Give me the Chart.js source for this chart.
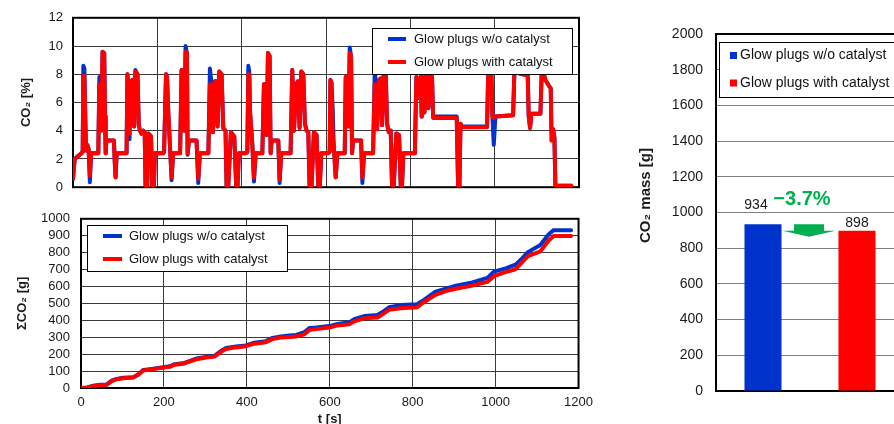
<!DOCTYPE html>
<html>
<head>
<meta charset="utf-8">
<script src="https://cdn.jsdelivr.net/npm/chart.js@4.4.1/dist/chart.umd.min.js"></script>
<style>
html,body{margin:0;padding:0;background:#fff;}
body{width:894px;height:424px;overflow:hidden;position:relative;}
canvas{position:absolute;}
#co2Pct{left:0;top:0;}
#co2Sum{left:0;top:200px;}
#co2Mass{left:620px;top:0;}
</style>
</head>
<body>
<canvas id="co2Pct" width="600" height="205"></canvas>
<canvas id="co2Sum" width="600" height="240"></canvas>
<canvas id="co2Mass" width="300" height="424"></canvas>
<script>
const seriesNames = ['Glow plugs w/o catalyst', 'Glow plugs with catalyst'];

// top panel: CO2 concentration [%] vs time [s]
const pctTime = [
  0, 4, 12, 20, 23, 24.5, 27, 29, 31, 34, 37, 40, 43, 60, 62.5, 65.5, 67.5, 70, 74, 76, 77.5, 79, 97, 99, 101, 103.5, 127, 129, 132, 134, 137, 141, 145, 148, 153, 156, 159, 162, 167, 170, 172, 176, 179, 185, 188, 192, 194,
  214, 216, 220.6, 223, 226, 230, 233.8, 237.5, 254, 257.5, 261.5, 264, 267, 270.2, 271.8, 275, 293, 297, 301, 321, 324.7, 328.7, 331.8, 336.6, 340.5, 342.9, 346.8, 352.4, 356.3, 361.8, 364.2, 368.2, 374.5, 382.4, 387.1, 390.3, 393.4,
  409.5, 413.5, 415.8, 418, 420, 425.3, 429.2, 433.2, 449, 452.9, 456.9, 459.2, 462.4, 466.3, 468.7, 471, 486.8, 490, 493.9, 516, 520, 524, 529.5, 533.5, 537.4, 541.4, 546.1, 550, 554, 558, 561, 565.8, 571.3, 577.6, 581.6, 585.5, 588.7,
  605, 608.8, 610.4, 613, 616, 618.3, 623, 627, 644.4, 646.8, 650, 653.1, 656.3, 659.4, 661.8, 664.2, 683.2, 686.3, 690.3, 711.6, 715.6, 718.7, 721.1, 725, 729, 733, 736.9, 741.6, 744.8, 748.7, 753.5, 756.6, 760.6, 766.9, 773.2, 777.2, 780.3, 783.5,
  809, 811, 814.4, 817.5, 820, 824, 827, 830, 833.4, 835.7, 839.6, 842.8, 846, 850.8, 854, 910, 913.3, 916.5, 919, 923, 982, 985, 988.4, 991.5, 994.7, 997.9, 1001.8, 1043.7, 1046.8, 1053, 1078.4, 1080.8, 1084, 1087, 1108.5, 1111.6, 1116.4, 1120.4, 1128.3, 1133, 1134.6, 1138.6, 1141.7, 1144, 1182
];
const pctNoCat = [
  0.6, 2.0, 2.2, 2.4, 2.5, 8.6, 8.4, 5.0, 2.6, 3.0, 2.7, 0.35, 2.4, 2.4, 7.8, 7.8, 4.1, 9.6, 9.5, 5.0, 2.4, 3.3, 3.3, 1.8, 0.7, 2.4, 2.4, 8.0, 7.0, 3.4, 7.5, 7.6, 4.3, 8.3, 8.0, 4.4, 4.0, 3.8, 4.0, 3.9, 0.1, 0.1, 3.8, 3.6, 0.1, 0.1, 2.4,
  2.4, 2.5, 8.0, 7.8, 5.3, 2.9, 0.5, 2.4, 2.4, 8.3, 8.0, 4.0, 10.0, 9.5, 2.3, 3.3, 3.3, 0.3, 2.4, 2.4, 8.4, 7.3, 3.9, 7.5, 7.5, 4.3, 8.2, 8.0, 4.2, 4.0, 0.1, 0.1, 3.9, 3.6, 0.1, 0.1, 2.4,
  2.4, 2.5, 8.6, 8.2, 5.3, 3.0, 0.4, 2.4, 2.4, 7.3, 7.3, 3.7, 9.5, 9.3, 2.4, 3.3, 3.3, 0.3, 2.4, 2.4, 8.3, 4.0, 7.3, 7.5, 4.2, 8.2, 8.0, 4.5, 4.0, 3.9, 0.1, 0.1, 3.9, 3.7, 0.1, 0.1, 2.4,
  2.4, 2.5, 7.6, 7.4, 5.5, 3.0, 0.7, 2.4, 2.4, 7.8, 7.8, 4.3, 9.9, 9.3, 2.4, 3.3, 3.3, 0.3, 2.4, 2.4, 8.3, 7.3, 4.1, 7.5, 7.7, 4.4, 8.2, 8.1, 4.5, 3.9, 4.0, 0.1, 0.1, 3.8, 3.7, 0.1, 0.1, 2.4,
  2.4, 3.0, 7.8, 6.3, 7.4, 7.8, 5.0, 8.0, 5.3, 8.6, 8.5, 5.6, 8.6, 8.5, 5.0, 5.0, 0.1, 0.1, 4.5, 4.3, 4.3, 8.6, 9.4, 9.1, 5.0, 3.0, 5.0, 5.1, 8.2, 8.1, 7.9, 5.0, 4.2, 5.2, 5.2, 8.2, 8.0, 7.6, 7.2, 7.0, 4.0, 4.1, 3.5, 0.1, 0.1
];
const pctCat = [
  0.6, 2.0, 2.2, 2.4, 2.5, 7.9, 7.9, 5.2, 2.6, 3.0, 2.7, 0.8, 2.4, 2.4, 7.3, 7.3, 4.0, 9.6, 9.5, 5.0, 2.4, 3.3, 3.3, 1.8, 0.7, 2.4, 2.4, 8.0, 7.0, 3.8, 7.5, 7.6, 4.3, 8.2, 8.0, 4.4, 4.0, 3.8, 4.0, 3.9, 0.1, 0.1, 3.8, 3.6, 0.1, 0.1, 2.4,
  2.4, 2.5, 8.0, 7.8, 5.3, 2.9, 0.7, 2.4, 2.4, 8.3, 8.0, 4.0, 9.6, 9.5, 2.4, 3.3, 3.3, 0.6, 2.4, 2.4, 7.3, 7.3, 3.9, 7.5, 7.5, 4.3, 8.2, 8.0, 4.2, 4.0, 0.1, 0.1, 3.9, 3.6, 0.1, 0.1, 2.4,
  2.4, 2.5, 8.0, 8.0, 5.3, 3.0, 0.7, 2.4, 2.4, 7.3, 7.3, 3.7, 9.5, 9.3, 2.4, 3.3, 3.3, 0.5, 2.4, 2.4, 8.3, 4.0, 7.3, 7.5, 4.2, 8.2, 8.0, 4.5, 4.0, 3.9, 0.1, 0.1, 3.9, 3.7, 0.1, 0.1, 2.4,
  2.4, 2.5, 7.6, 7.4, 3.5, 3.0, 0.7, 2.4, 2.4, 7.8, 7.8, 4.3, 9.5, 9.3, 2.4, 3.3, 3.3, 0.7, 2.4, 2.4, 7.3, 7.3, 4.1, 7.5, 7.7, 4.4, 8.2, 8.1, 4.5, 3.9, 4.0, 0.1, 0.1, 3.8, 3.7, 0.1, 0.1, 2.4,
  2.4, 2.7, 7.8, 6.3, 7.4, 7.8, 5.0, 8.0, 5.3, 8.6, 8.5, 5.6, 8.6, 8.5, 4.9, 4.9, 0.1, 0.1, 4.5, 4.25, 4.25, 8.6, 9.4, 9.1, 5.0, 4.9, 5.0, 5.1, 8.2, 8.1, 7.9, 5.0, 4.2, 5.2, 5.2, 8.2, 8.0, 7.6, 7.2, 7.0, 3.3, 4.1, 3.5, 0.1, 0.1
];

// bottom panel: cumulative CO2 [g] vs time [s]
const sumTime  = [0, 15, 30, 46, 62, 74, 86, 102, 126, 138, 150, 162, 186, 214, 226, 250, 258, 278, 302, 322, 338, 350, 374, 398, 418, 446, 462, 482, 503, 519, 539, 551, 567, 599, 619, 647, 659, 683, 715, 727, 743, 771, 811, 823, 839, 855, 880, 904, 944, 980, 996, 1024, 1048, 1064, 1078, 1108, 1128, 1140, 1182];
const sumNoCat = [0, 3, 14, 19, 21, 43, 54, 60, 64, 80, 106, 110, 118, 128, 141, 148, 156, 174, 184, 190, 220, 236, 245, 252, 268, 277, 296, 305, 310, 314, 330, 354, 357, 366, 379, 388, 407, 425, 431, 449, 477, 490, 495, 514, 541, 569, 587, 605, 624, 651, 688, 707, 729, 766, 803, 845, 909, 933, 933];
const sumCat   = [0, 2, 12, 17, 19, 40, 52, 58, 62, 78, 103, 108, 116, 125, 138, 145, 153, 170, 180, 186, 215, 231, 240, 247, 262, 271, 289, 298, 302, 305, 317, 343, 348, 357, 370, 376, 394, 412, 416, 435, 462, 471, 477, 501, 526, 551, 573, 587, 605, 627, 661, 685, 702, 744, 780, 808, 872, 898, 898];

// right panel: total CO2 mass [g]
const massValues = [934, 898];
const massChange = '\u22123.7%';

const fam = '"Liberation Sans", Arial, sans-serif';
const txt = '#1a1a1a';
const blue = '#0033cc', red = '#ff0000';
Chart.defaults.font.family = fam;
Chart.defaults.color = txt;

const pts = (xs, ys) => xs.map((x, i) => ({x, y: ys[i]}));
const plain = v => String(v);

// black box round the plot area
const frame = {
  id: 'frame',
  beforeDatasetsDraw(chart) {
    const {ctx, chartArea: a} = chart;
    ctx.save();
    ctx.strokeStyle = '#000';
    ctx.lineWidth = 2;
    ctx.strokeRect(a.left, a.top, a.right - a.left, a.bottom - a.top);
    ctx.restore();
  }
};

// legend drawn inside the plot, in a white box
const boxLegend = {
  id: 'boxLegend',
  afterDraw(chart, args, o) {
    const {ctx, chartArea: a} = chart;
    const x = Math.round(a.left + o.x), y = Math.round(a.top + o.y);
    ctx.save();
    ctx.fillStyle = '#fff';
    ctx.fillRect(x, y, o.w, o.h);
    ctx.strokeStyle = '#000';
    ctx.lineWidth = 1;
    ctx.strokeRect(x + 0.5, y + 0.5, o.w, o.h);
    ctx.font = o.font;
    ctx.textBaseline = 'middle';
    chart.data.datasets.forEach((ds, i) => {
      const cy = y + o.rows[i];
      if (o.marker === 'line') {
        ctx.strokeStyle = ds.borderColor;
        ctx.lineWidth = 4;
        ctx.beginPath();
        ctx.moveTo(x + o.m0, cy);
        ctx.lineTo(x + o.m1, cy);
        ctx.stroke();
      } else {
        ctx.fillStyle = ds.backgroundColor;
        ctx.fillRect(x + o.m0, cy - 3.5, o.m1 - o.m0, 7);
      }
      ctx.fillStyle = '#111';
      ctx.fillText(ds.label, x + o.tx, cy);
    });
    ctx.restore();
  }
};

// value labels, green arrow, change text and y title of the bar panel
const barNotes = {
  id: 'barNotes',
  afterDatasetsDraw(chart) {
    const {ctx, chartArea: a} = chart;
    const b0 = chart.getDatasetMeta(0).data[0];
    const b1 = chart.getDatasetMeta(1).data[1];
    ctx.save();
    ctx.fillStyle = txt;
    ctx.textAlign = 'center';
    ctx.textBaseline = 'middle';
    ctx.font = '14px ' + fam;
    ctx.fillText(String(massValues[0]), b0.x - 7, b0.y - 19);
    ctx.fillText(String(massValues[1]), b1.x, b1.y - 8);

    const l = b0.x + b0.width / 2 + 1;
    const r = b1.x - b1.width / 2 - 3;
    const m = (l + r) / 2;
    ctx.fillStyle = '#00b050';
    ctx.beginPath();
    ctx.moveTo(m - 15, b0.y);
    ctx.lineTo(m + 15, b0.y);
    ctx.lineTo(m + 15, b1.y);
    ctx.lineTo(r, b1.y);
    ctx.lineTo(m, b1.y + 6);
    ctx.lineTo(l, b1.y);
    ctx.lineTo(m - 15, b1.y);
    ctx.closePath();
    ctx.fill();
    ctx.font = 'bold 20px ' + fam;
    ctx.fillText(massChange, m - 7, b0.y - 25);

    ctx.fillStyle = txt;
    ctx.font = 'bold 15px ' + fam;
    ctx.translate(chart.scales.y.left + 26, (a.top + a.bottom) / 2 - 17);
    ctx.rotate(-Math.PI / 2);
    ctx.fillText('CO\u2082 mass [g]', 0, 0);
    ctx.restore();
  }
};

// red is drawn over blue, as in the original
const lineSet = (label, data, color, order) => ({
  label, data, order, borderColor: color, backgroundColor: color,
  borderWidth: 4, pointRadius: 0, tension: 0,
  borderJoinStyle: 'round', borderCapStyle: 'round'
});

const gridCol = '#3a3a3a';

new Chart(document.getElementById('co2Pct'), {
  type: 'line',
  data: {datasets: [
    lineSet(seriesNames[0], pts(pctTime, pctNoCat), blue, 1),
    lineSet(seriesNames[1], pts(pctTime, pctCat), red, 0)
  ]},
  options: {
    animation: false, responsive: false, events: [],
    layout: {padding: {top: 15, right: 21, bottom: 8, left: 0}},
    plugins: {
      legend: {display: false}, tooltip: {enabled: false},
      boxLegend: {x: 299, y: 10, w: 200, h: 46, rows: [11, 34], marker: 'line', m0: 16, m1: 34, tx: 42, font: '13px ' + fam}
    },
    scales: {
      x: {type: 'linear', min: 0, max: 1200,
        ticks: {display: false, stepSize: 200, autoSkip: false},
        grid: {color: gridCol, drawTicks: false}, border: {display: false},
        afterFit: s => { s.height = 0; }},
      y: {min: 0, max: 12,
        ticks: {stepSize: 2, autoSkip: false, padding: 10, color: txt, font: {size: 13}, callback: plain},
        grid: {color: gridCol, drawTicks: false}, border: {display: false},
        title: {display: true, text: 'CO\u2082 [%]', color: txt, font: {size: 13, weight: 'bold'}, padding: {top: 19, bottom: 0}},
        afterFit: s => { s.width = 73; }}
    }
  },
  plugins: [frame, boxLegend]
});

new Chart(document.getElementById('co2Sum'), {
  type: 'line',
  data: {datasets: [
    lineSet(seriesNames[0], pts(sumTime, sumNoCat), blue, 1),
    lineSet(seriesNames[1], pts(sumTime, sumCat), red, 0)
  ]},
  options: {
    animation: false, responsive: false, events: [],
    layout: {padding: {top: 7, right: 20, bottom: 0, left: 0}},
    plugins: {
      legend: {display: false}, tooltip: {enabled: false},
      boxLegend: {x: 6, y: 6, w: 200, h: 46, rows: [11, 34], marker: 'line', m0: 16, m1: 35, tx: 42, font: '13px ' + fam}
    },
    scales: {
      x: {type: 'linear', min: 0, max: 1200,
        ticks: {stepSize: 200, autoSkip: false, padding: 7, maxRotation: 0, color: txt, font: {size: 13}, callback: plain},
        grid: {color: gridCol, drawTicks: false}, border: {display: false},
        title: {display: true, text: 't [s]', color: txt, font: {size: 13, weight: 'bold'}, padding: {top: 0, bottom: 13}},
        afterFit: s => { s.height = 52; }},
      y: {min: 0, max: 1000,
        ticks: {stepSize: 100, autoSkip: false, padding: 11, color: txt, font: {size: 13}, callback: plain},
        grid: {color: gridCol, drawTicks: false}, border: {display: false},
        title: {display: true, text: '\u03a3CO\u2082 [g]', color: txt, font: {size: 13, weight: 'bold'}, padding: {top: 15, bottom: 0}},
        afterFit: s => { s.width = 81; }}
    }
  },
  plugins: [frame, boxLegend]
});

new Chart(document.getElementById('co2Mass'), {
  type: 'bar',
  data: {
    labels: ['', ''],
    datasets: [
      {label: seriesNames[0], data: [massValues[0], null], backgroundColor: blue},
      {label: seriesNames[1], data: [null, massValues[1]], backgroundColor: red}
    ]
  },
  options: {
    animation: false, responsive: false, events: [],
    layout: {padding: {top: 34, right: 16, bottom: 0, left: 0}},
    datasets: {bar: {categoryPercentage: 1, barPercentage: 0.394}},
    plugins: {
      legend: {display: false}, tooltip: {enabled: false},
      boxLegend: {x: 3, y: 8, w: 230, h: 55, rows: [13.5, 41], marker: 'box', m0: 11, m1: 18, tx: 21, font: '14px ' + fam}
    },
    scales: {
      x: {stacked: true, ticks: {display: false}, grid: {display: false},
        border: {color: '#000', width: 2},
        afterFit: s => { s.height = 33; }},
      y: {min: 0, max: 2000,
        ticks: {stepSize: 200, autoSkip: false, padding: 13, color: txt, font: {size: 14}, callback: plain},
        grid: {color: '#808080', drawTicks: false}, border: {color: '#000', width: 2},
        afterFit: s => { s.width = 96; }}
    }
  },
  plugins: [frame, boxLegend, barNotes]
});
</script>
</body>
</html>
